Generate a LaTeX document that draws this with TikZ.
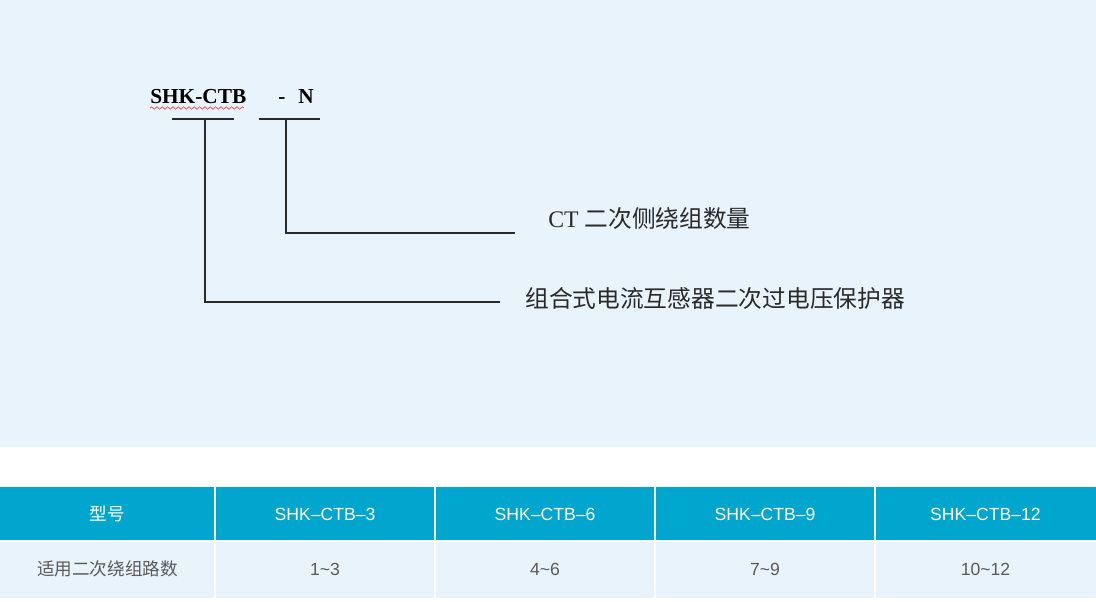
\documentclass[tikz,border=0pt]{standalone}
\usepackage{fontspec}
\setmainfont{Liberation Serif}
\newfontfamily\cjk{Noto Sans CJK SC}
\newfontfamily\sansf{Liberation Sans}
\usetikzlibrary{decorations.pathmorphing}
\definecolor{bgblue}{HTML}{E9F3FB}
\definecolor{headteal}{HTML}{00A6CE}
\definecolor{txtgray}{HTML}{5A5A5A}
\definecolor{inkline}{HTML}{2A2A2A}
\definecolor{spellred}{HTML}{E85A5A}
\tikzset{
  lbl/.style={anchor=west, inner sep=0pt, text=inkline, font=\fontsize{17.8}{20}\selectfont},
  code/.style={anchor=base west, inner sep=0pt, text=black, font=\fontsize{16}{18}\selectfont\bfseries},
  conn/.style={draw=inkline, line width=1.1pt},
  headcell/.style={inner sep=0pt, text=white, font=\fontsize{13.2}{15}\selectfont},
  bodycell/.style={inner sep=0pt, text=txtgray, font=\fontsize{13.2}{15}\selectfont},
  divider/.style={draw=white, line width=1.2pt}
}
\begin{document}
\begin{tikzpicture}[x=0.75pt,y=-0.75pt]
\useasboundingbox (0,0) rectangle (1096,601);
% backgrounds
\fill[bgblue] (0,0) rectangle (1096,447);
\fill[white] (0,447) rectangle (1096,487);
\fill[headteal] (0,487) rectangle (1096,541);
\fill[bgblue] (0,541) rectangle (1096,598);
\fill[white] (0,598) rectangle (1096,601);
% table dividers
\foreach \xx in {215,435,655,875} \draw[divider] (\xx,487) -- (\xx,598);
\draw[divider] (0,541) -- (1096,541);
% model code
\node[code] (model) at (150,103) {SHK-CTB};
\node[code] (dash) at (278,103) {-};
\node[code] (nn) at (298,103) {N};
\draw[spellred, line width=0.6pt, decorate, decoration={snake, amplitude=0.9pt, segment length=4pt}]
  (model.base west) ++(0,5) -- ++(94,0);
% underlines
\coordinate (u1a) at (172,119); \coordinate (u1b) at (234,119);
\coordinate (u2a) at (259,119); \coordinate (u2b) at (320,119);
\draw[conn] (u1a) -- (u1b);
\draw[conn] (u2a) -- (u2b);
\coordinate (t1) at (205,119);
\coordinate (t2) at (286,119);
% labels
\node[lbl] (lab2) at (548,219) {CT {\cjk 二次侧绕组数量}};
\node[lbl] (lab1) at (525,298) {\cjk 组合式电流互感器二次过电压保护器};
\coordinate (e2) at (515,233);
\coordinate (e1) at (500,302);
\draw[conn] (t2) |- (e2);
\draw[conn] (t1) |- (e1);
% table header
\node[headcell] (h0) at (107.5,514) {\cjk 型号};
\node[headcell] (h1) at (325,514) {\sansf SHK–CTB–3};
\node[headcell] (h2) at (545,514) {\sansf SHK–CTB–6};
\node[headcell] (h3) at (765,514) {\sansf SHK–CTB–9};
\node[headcell] (h4) at (985.5,514) {\sansf SHK–CTB–12};
% table body
\node[bodycell] (b0) at (107.5,569) {\cjk 适用二次绕组路数};
\node[bodycell] (b1) at (325,569) {\sansf 1\textasciitilde 3};
\node[bodycell] (b2) at (545,569) {\sansf 4\textasciitilde 6};
\node[bodycell] (b3) at (765,569) {\sansf 7\textasciitilde 9};
\node[bodycell] (b4) at (985.5,569) {\sansf 10\textasciitilde 12};
\end{tikzpicture}
\end{document}
